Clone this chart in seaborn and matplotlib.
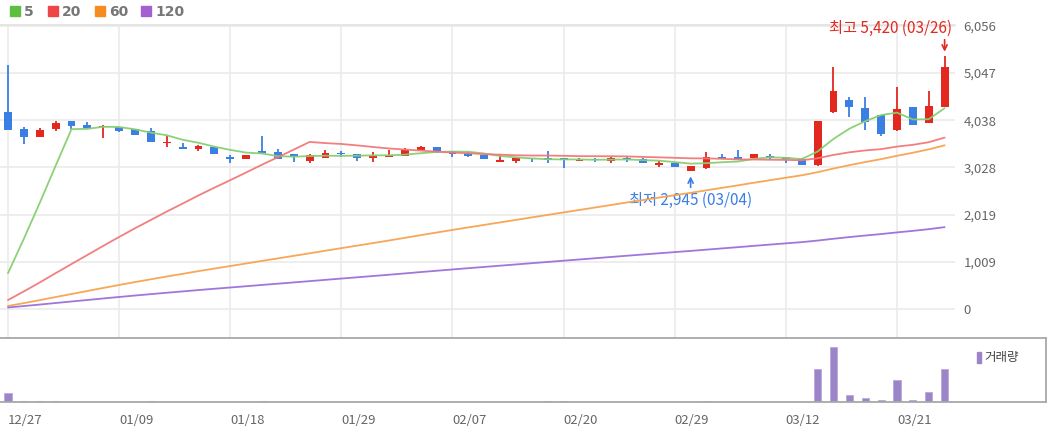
import numpy as np
import pandas as pd
import matplotlib
matplotlib.use("Agg")
import matplotlib.pyplot as plt
import matplotlib.patches as mpatches
from matplotlib.transforms import offset_copy
import seaborn as sns

# trading days shown on the chart
dates = ["12/27", "12/28", "01/02", "01/03", "01/04", "01/05", "01/08", "01/09",
         "01/10", "01/11", "01/12", "01/15", "01/16", "01/17", "01/18", "01/19",
         "01/22", "01/23", "01/24", "01/25", "01/26", "01/29", "01/30", "01/31",
         "02/01", "02/02", "02/05", "02/06", "02/07", "02/08", "02/13", "02/14",
         "02/15", "02/16", "02/19", "02/20", "02/21", "02/22", "02/23", "02/26",
         "02/27", "02/28", "02/29", "03/04", "03/05", "03/06", "03/07", "03/08",
         "03/11", "03/12", "03/13", "03/14", "03/15", "03/18", "03/19", "03/20",
         "03/21", "03/22", "03/25", "03/26"]

opens = [4216, 3852, 3687, 3846, 4030, 3931, 3895, 3902, 3852, 3803,
         3546, 3473, 3418, 3473, 3232, 3204, 3381, 3353, 3317, 3174,
         3238, 3320, 3317, 3225, 3260, 3281, 3403, 3460, 3388, 3332,
         3296, 3139, 3174, 3225, 3210, 3225, 3167, 3192, 3174, 3238,
         3203, 3082, 3131, 2953, 3024, 3246, 3260, 3225, 3281, 3253,
         3210, 3082, 4222, 4473, 4308, 4152, 3831, 4316, 3974, 4329]
highs = [5222, 3895, 3873, 4030, 4030, 3995, 3931, 3902, 3852, 3867,
         3709, 3559, 3510, 3473, 3296, 3289, 3709, 3424, 3317, 3317,
         3403, 3388, 3317, 3353, 3403, 3452, 3494, 3460, 3388, 3366,
         3296, 3310, 3260, 3225, 3381, 3225, 3225, 3225, 3260, 3274,
         3225, 3167, 3131, 3060, 3353, 3317, 3403, 3317, 3317, 3253,
         3225, 4023, 5185, 4543, 4530, 4152, 4757, 4316, 4665, 5420]
lows = [3831, 3531, 3687, 3803, 3852, 3867, 3659, 3788, 3724, 3567,
        3460, 3424, 3386, 3311, 3118, 3204, 3317, 3204, 3152, 3118,
        3238, 3260, 3174, 3146, 3260, 3270, 3403, 3332, 3260, 3246,
        3210, 3139, 3118, 3152, 3131, 3024, 3167, 3152, 3118, 3152,
        3118, 3046, 3032, 2945, 2996, 3210, 3210, 3225, 3189, 3118,
        3082, 3060, 4188, 4102, 3831, 3700, 3809, 3938, 3974, 4329]
closes = [3831, 3687, 3831, 3974, 3916, 3867, 3905, 3809, 3724, 3567,
          3580, 3424, 3488, 3311, 3220, 3289, 3332, 3204, 3246, 3289,
          3332, 3310, 3225, 3281, 3296, 3403, 3460, 3366, 3317, 3281,
          3210, 3189, 3225, 3203, 3195, 3189, 3189, 3185, 3225, 3210,
          3118, 3131, 3032, 3060, 3260, 3217, 3210, 3317, 3225, 3203,
          3082, 4023, 4665, 4316, 4008, 3738, 4280, 3938, 4344, 5185]
volumes = [84000, 13000, 13000, 13000, 1000, 1000, 1000, 1000, 1000, 13000,
           1000, 1000, 1000, 1000, 1000, 1000, 13000, 1000, 1000, 1000,
           1000, 1000, 1000, 1000, 1000, 1000, 1000, 1000, 1000, 1000,
           1000, 1000, 1000, 1000, 13000, 13000, 1000, 1000, 1000, 1000,
           1000, 1000, 1000, 1000, 13000, 1000, 1000, 1000, 1000, 1000,
           1000, 324000, 534000, 67000, 37000, 20000, 217000, 24000, 100000, 324000]

ma_windows = [5, 20, 60, 120]
ma_colors = ["#86cf72", "#f27878", "#f7a24e", "#9b6fd8"]
legend_colors = ["#5cbf3f", "#ee4646", "#f78b22", "#a45fd0"]
price_ticks = [0, 1009, 2019, 3028, 4038, 5047, 6056]

RED = "#e2281f"
BLUE = "#3b7fe3"
VOL = "#9b85c8"

df = pd.DataFrame({"date": dates, "open": opens, "high": highs,
                   "low": lows, "close": closes, "volume": volumes})
df["idx"] = np.arange(len(df))
# moving averages: sum of available closes over the window / window size
for n in ma_windows:
    df[f"ma{n}"] = df["close"].rolling(n, min_periods=1).sum() / n

sns.set_theme(style="white")
plt.rcParams["font.family"] = ["Noto Sans CJK KR", "DejaVu Sans"]

W, H = 1050, 434
fig = plt.figure(figsize=(W / 100, H / 100), dpi=100)


def box(l, t, r, b):
    return [l / W, 1 - b / H, (r - l) / W, (b - t) / H]


ax = fig.add_axes(box(0, 25, 955, 338))
axv = fig.add_axes(box(0, 338, 1046, 402))

step = 15.875
ax.set_xlim(-8 / step, (955 - 8) / step)
ax.set_ylim(-621, 6077)

# candles
up = df["close"] >= df["open"]
colors = np.where(up, RED, BLUE)
body_bottom = np.minimum(df["open"], df["close"])
body_h = np.maximum((df["close"] - df["open"]).abs(), 28)
ax.vlines(df["idx"], df["low"], df["high"], colors=colors, lw=1.3, zorder=3)
ax.bar(df["idx"], body_h, bottom=body_bottom, width=0.5, color=colors,
       linewidth=0, zorder=4)

# moving average lines
for n, col in zip(ma_windows, ma_colors):
    sns.lineplot(data=df, x="idx", y=f"ma{n}", color=col, lw=1.3, ax=ax,
                 zorder=5, alpha=0.95)

tick_idx = df["idx"][::7].tolist()
tick_lab = df["date"][::7].tolist()

ax.set_xticks(tick_idx)
ax.set_yticks(price_ticks)
ax.set_yticklabels([f"{v:,}" for v in price_ticks])
ax.yaxis.tick_right()
ax.tick_params(axis="y", length=0, pad=6, labelsize=9.5, labelcolor="#666666")
ax.tick_params(axis="x", length=0, labelbottom=False)
ax.grid(True, color="#ebebeb", lw=1.2)
ax.set_axisbelow(True)
ax.set_xlabel("")
ax.set_ylabel("")
for s in ["left", "right", "bottom"]:
    ax.spines[s].set_visible(False)
ax.spines["top"].set_color("#e3e3e3")

# high / low markers
hi_i = int(df["high"].idxmax())
lo_i = int(df["low"].idxmin())
hi = df["high"][hi_i]
lo = df["low"][lo_i]
arrow = dict(arrowstyle="->", lw=1.2, shrinkA=0, shrinkB=0, mutation_scale=9)
ax.annotate("", xy=(hi_i, hi), xycoords=offset_copy(ax.transData, fig=fig, y=4, units="dots"),
            xytext=(0, 12), textcoords="offset pixels",
            arrowprops=dict(arrow, color=RED), annotation_clip=False)
ax.annotate(f"최고 {hi:,} ({dates[hi_i]})", xy=(hi_i, hi), xytext=(7, 27.5),
            textcoords="offset pixels", ha="right", va="center", color=RED,
            fontsize=11, annotation_clip=False)
ax.annotate("", xy=(lo_i, lo), xycoords=offset_copy(ax.transData, fig=fig, y=-5, units="dots"),
            xytext=(0, -11), textcoords="offset pixels",
            arrowprops=dict(arrow, color=BLUE), annotation_clip=False)
ax.annotate(f"최저 {lo:,} ({dates[lo_i]})", xy=(lo_i, lo), xytext=(0, -28.5),
            textcoords="offset pixels", ha="center", va="center", color=BLUE,
            fontsize=11, annotation_clip=False)

# volume panel
sns.barplot(data=df, x="idx", y="volume", native_scale=True, width=0.45,
            color=VOL, saturation=1, edgecolor="#b9a9dc", linewidth=0.6, ax=axv)
axv.set_xlim(-8 / step, (1046 - 8) / step)
axv.set_ylim(0, 626000)
axv.set_yticks([])
axv.set_xticks(tick_idx)
axv.set_xticklabels(tick_lab, ha="left")
axv.tick_params(axis="x", length=7, width=1, color="#aaaaaa", pad=2,
                labelsize=9.5, labelcolor="#666666")
axv.set_xlabel("")
axv.set_ylabel("")
axv.spines["left"].set_visible(False)
for s in ["top", "bottom", "right"]:
    axv.spines[s].set_color("#a8a8a8")
    axv.spines[s].set_linewidth(1.3)

# top legend
leg_x = [10, 48, 95, 141]
for x0, col, n in zip(leg_x, legend_colors, ma_windows):
    fig.patches.append(mpatches.Rectangle((x0 / W, 1 - 16 / H), 10 / W, 10 / H,
                                          transform=fig.transFigure,
                                          color=col, figure=fig))
    fig.text((x0 + 14) / W, 1 - 11.5 / H, str(n), fontsize=10, fontweight="bold",
             color="#777777", va="center", ha="left", family="DejaVu Sans")

# volume legend
fig.patches.append(mpatches.Rectangle((977 / W, 1 - 363 / H), 4 / W, 11 / H,
                                      transform=fig.transFigure, color=VOL,
                                      figure=fig))
fig.text(984 / W, 1 - 357.5 / H, "거래량", fontsize=9, color="#444444",
         va="center", ha="left")

fig.savefig("out.png", dpi=100)
